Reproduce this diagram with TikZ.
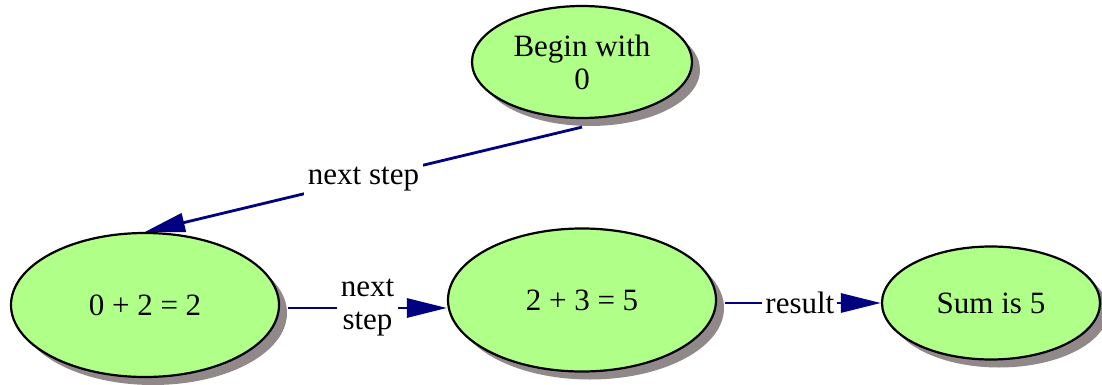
\documentclass[tikz,border=0pt]{standalone}
\usepackage{fontspec}
\setmainfont{Liberation Serif}
\usetikzlibrary{shapes.geometric,shadows,arrows.meta}
\definecolor{nodefill}{HTML}{B0FF88}
\definecolor{shadowgray}{HTML}{918989}
\definecolor{edgenavy}{HTML}{000080}
\begin{document}
\begin{tikzpicture}[x=1pt,y=-1pt,
  state/.style={ellipse, draw=black, line width=2.2pt, fill=nodefill, inner sep=0pt, align=center,
    font=\fontsize{31}{33}\selectfont,
    drop shadow={shadow xshift=8pt, shadow yshift=-8pt, fill=shadowgray, opacity=1}},
  conn/.style={draw=edgenavy, line width=2.8pt, -{Triangle[length=40pt,width=19pt]}},
  lbl/.style={fill=white, inner sep=4pt, font=\fontsize{31}{33}\selectfont, align=center}]
\useasboundingbox (0,0) rectangle (1102,385);
\node[state, minimum width=220pt, minimum height=112pt] (begin) at (582,62) {Begin with\\0};
\node[state, minimum width=268pt, minimum height=144pt] (a) at (145,305) {0 + 2 = 2};
\node[state, minimum width=268pt, minimum height=143pt] (b) at (582,300) {2 + 3 = 5};
\node[state, minimum width=218pt, minimum height=113pt] (sum) at (991,303) {Sum is 5};
\draw[conn] ([yshift=-8pt]begin.south) -- node[lbl, pos=0.5] {next step} (a.north);
\draw[conn] ([xshift=8pt,yshift=-3pt]a.east) -- node[lbl, pos=0.5] {next\\step} ([yshift=-8pt]b.west);
\draw[conn] ([xshift=8pt,yshift=-3pt]b.east) -- node[lbl, inner sep=3pt, pos=0.48] {result} (sum.west);
\end{tikzpicture}
\end{document}
